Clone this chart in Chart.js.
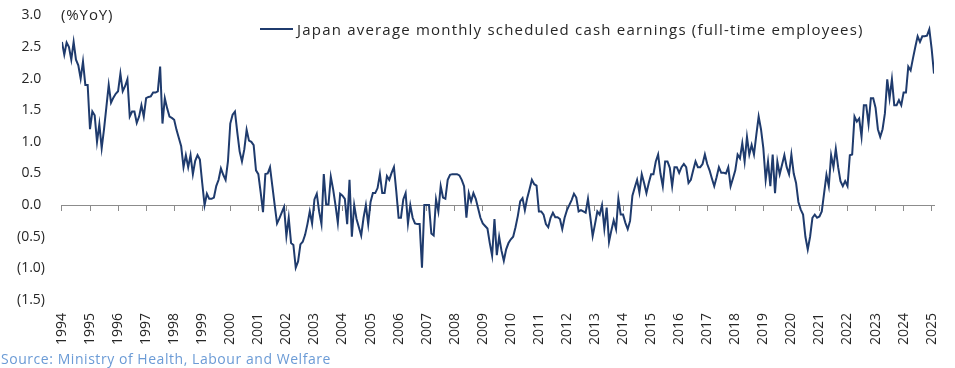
<!DOCTYPE html>
<html>
<head>
<meta charset="utf-8">
<script src="https://cdn.jsdelivr.net/npm/chart.js@4.4.1/dist/chart.umd.min.js"></script>
<style>
  html, body { margin: 0; padding: 0; background: #fff; }
  body { width: 955px; height: 368px; position: relative; overflow: hidden; font-family: 'Open Sans', sans-serif; }
  #wrap { position: absolute; left: 0; top: -10px; width: 955px; height: 376px; }
  #unit { position: absolute; left: 61px; top: 4px; font-size: 15px; letter-spacing: 0.9px; color: #262626; }
  #legend { position: absolute; left: 260px; top: 19px; font-size: 15px; letter-spacing: 1.2px; color: #262626; display: flex; align-items: center; white-space: nowrap; }
  #legend .swatch { width: 33px; height: 2px; margin-right: 4px; }
  #source { position: absolute; left: 1px; top: 349px; font-size: 14px; letter-spacing: 0.55px; color: #6b9bd6; white-space: nowrap; }
</style>
</head>
<body>
<div id="wrap"><canvas id="chart" width="955" height="376"></canvas></div>
<div id="unit"></div>
<div id="legend"></div>
<div id="source"></div>
<script>
// Данные: помесячно, январь 1994 — февраль 2025 (%YoY)
const startYear = 1994;
const cashEarningsYoY = [
  2.58, 2.38, 2.57, 2.5, 2.3, 2.58, 2.3, 2.21, 2.0, 2.27, 1.9, 1.9,          // 1994
  1.2, 1.48, 1.42, 1.0, 1.28, 0.9, 1.2, 1.55, 1.9, 1.62, 1.7, 1.76,          // 1995
  1.8, 2.08, 1.8, 1.88, 1.99, 1.4, 1.48, 1.48, 1.3, 1.4, 1.58, 1.4,          // 1996
  1.69, 1.71, 1.72, 1.78, 1.78, 1.8, 2.19, 1.29, 1.69, 1.53, 1.4, 1.38,      // 1997
  1.35, 1.19, 1.06, 0.93, 0.6, 0.79, 0.6, 0.79, 0.49, 0.7, 0.79, 0.72,       // 1998
  0.35, 0.0, 0.18, 0.1, 0.1, 0.12, 0.3, 0.4, 0.58, 0.48, 0.4, 0.69,          // 1999
  1.29, 1.43, 1.48, 1.15, 0.85, 0.69, 0.88, 1.19, 1.02, 1.0, 0.95, 0.55,     // 2000
  0.49, 0.2, -0.11, 0.49, 0.5, 0.6, 0.3, 0.0, -0.29, -0.21, -0.12, -0.03,    // 2001
  -0.49, -0.2, -0.6, -0.63, -0.99, -0.89, -0.62, -0.58, -0.47, -0.3, -0.1, -0.29, // 2002
  0.09, 0.18, -0.1, -0.3, 0.49, 0.01, 0.01, 0.45, 0.25, 0.0, -0.28, 0.18,    // 2003
  0.15, 0.1, -0.3, 0.4, -0.5, 0.0, -0.22, -0.35, -0.48, -0.2, 0.0, -0.3,     // 2004
  0.05, 0.19, 0.19, 0.27, 0.49, 0.19, 0.19, 0.46, 0.4, 0.51, 0.6, 0.22,      // 2005
  -0.2, -0.2, 0.09, 0.19, -0.29, 0.0, -0.2, -0.29, -0.3, -0.3, -0.99, 0.0,   // 2006
  0.0, 0.0, -0.45, -0.48, 0.09, -0.1, 0.3, 0.12, 0.1, 0.4, 0.48, 0.49,       // 2007
  0.49, 0.49, 0.47, 0.4, 0.3, -0.2, 0.19, 0.06, 0.19, 0.1, -0.05, -0.2,      // 2008
  -0.29, -0.33, -0.37, -0.6, -0.8, -0.22, -0.79, -0.5, -0.72, -0.88, -0.7, -0.6, // 2009
  -0.54, -0.5, -0.35, -0.17, 0.06, 0.11, -0.08, 0.11, 0.25, 0.4, 0.33, 0.31, // 2010
  -0.1, -0.1, -0.15, -0.3, -0.35, -0.2, -0.12, -0.19, -0.19, -0.22, -0.38, -0.2, // 2011
  -0.08, 0.0, 0.08, 0.18, 0.12, -0.1, -0.08, -0.1, -0.12, 0.1, -0.19, -0.49, // 2012
  -0.3, -0.1, -0.15, 0.0, -0.37, -0.04, -0.58, -0.4, -0.24, -0.38, 0.1, -0.15, // 2013
  -0.15, -0.28, -0.38, -0.25, 0.15, 0.28, 0.4, 0.2, 0.49, 0.35, 0.19, 0.35,  // 2014
  0.49, 0.49, 0.69, 0.8, 0.5, 0.3, 0.69, 0.69, 0.59, 0.3, 0.6, 0.6,          // 2015
  0.51, 0.6, 0.65, 0.6, 0.35, 0.4, 0.55, 0.69, 0.6, 0.6, 0.65, 0.8,          // 2016
  0.65, 0.55, 0.42, 0.3, 0.44, 0.6, 0.51, 0.51, 0.5, 0.6, 0.3, 0.42,         // 2017
  0.55, 0.8, 0.74, 0.98, 0.69, 1.08, 0.8, 0.95, 0.8, 1.11, 1.4, 1.2,         // 2018
  0.9, 0.4, 0.69, 0.3, 0.8, 0.19, 0.69, 0.49, 0.64, 0.79, 0.6, 0.49,         // 2019
  0.8, 0.5, 0.35, 0.05, -0.07, -0.15, -0.5, -0.7, -0.5, -0.2, -0.15, -0.2,   // 2020
  -0.18, -0.1, 0.19, 0.48, 0.3, 0.79, 0.6, 0.89, 0.6, 0.38, 0.3, 0.38,       // 2021
  0.3, 0.79, 0.8, 1.4, 1.32, 1.37, 1.08, 1.58, 1.58, 1.28, 1.69, 1.69,       // 2022
  1.54, 1.2, 1.08, 1.2, 1.45, 1.99, 1.69, 1.99, 1.58, 1.58, 1.66, 1.58,      // 2023
  1.78, 1.78, 2.19, 2.13, 2.32, 2.5, 2.67, 2.58, 2.67, 2.67, 2.68, 2.78,     // 2024
  2.47, 2.08                                                                  // 2025
];

// Оси
const yMin = -1.5;
const yMax = 3.0;
const yStep = 0.5;

// Тексты
const seriesLabel = 'Japan average monthly scheduled cash earnings (full-time employees)';
const unitLabel = '(%YoY)';
const sourceNote = 'Source: Ministry of Health, Labour and Welfare';

const lineColor = '#1f3b6d';
const textColor = '#262626';
const axisGray = '#8c8c8c';
const fontFamily = "'Open Sans', sans-serif";

// Точки: x = год + месяц/12
const points = cashEarningsYoY.map((v, i) => ({ x: startYear + i / 12, y: v }));
const xMax = startYear + (cashEarningsYoY.length - 1) / 12;

// Бухгалтерский формат: (0.5) для минуса, у плюса место под скобку
function fmtY(v) {
    const s = Math.abs(v).toFixed(1);
    return v < 0 ? '(' + s + ')' : s + '\u2008';
}

document.getElementById('unit').textContent = unitLabel;
document.getElementById('source').textContent = sourceNote;

const chart = new Chart(document.getElementById('chart'), {
    type: 'line',
    data: {
        datasets: [{
            label: seriesLabel,
            data: points,
            xAxisID: 'x',
            yAxisID: 'y',
            borderColor: lineColor,
            backgroundColor: lineColor,
            borderWidth: 2,
            pointRadius: 0,
            tension: 0,
            fill: false
        }]
    },
    options: {
        responsive: false,
        animation: false,
        devicePixelRatio: 1,
        layout: { padding: { top: 0, right: 21, bottom: 20, left: 0 } },
        plugins: {
            legend: { display: false },
            tooltip: { enabled: false }
        },
        scales: {
            x: {
                type: 'linear',
                position: 'bottom',
                min: startYear,
                max: xMax,
                // невидимые засечки дают отступ подписей (padding раздувает поля справа)
                grid: { display: true, drawOnChartArea: false, drawTicks: true, tickLength: 12, color: 'rgba(0,0,0,0)' },
                border: { display: false },
                ticks: {
                    stepSize: 1,
                    includeBounds: false,
                    autoSkip: false,
                    minRotation: 90,
                    maxRotation: 90,
                    padding: 1,
                    color: textColor,
                    font: { family: fontFamily, size: 14 },
                    callback: v => String(v)
                }
            },
            // линия нуля с засечками по годам (без подписей)
            x2: {
                type: 'linear',
                position: { y: 0 },
                min: startYear,
                max: xMax,
                grid: { display: true, drawOnChartArea: false, drawTicks: true, tickLength: 5, color: axisGray, lineWidth: 1 },
                border: { display: true, color: axisGray, width: 1 },
                ticks: { display: false, stepSize: 1, includeBounds: false, autoSkip: false, font: { size: 1 }, callback: () => '' }
            },
            y: {
                min: yMin,
                max: yMax,
                grid: { display: false, drawTicks: false },
                border: { display: false },
                ticks: {
                    stepSize: yStep,
                    padding: 17,
                    color: textColor,
                    font: { family: fontFamily, size: 14 },
                    callback: v => fmtY(v)
                }
            }
        }
    }
});

// Легенда в HTML, из данных графика
const legendBox = document.getElementById('legend');
chart.data.datasets.forEach(ds => {
    const sw = document.createElement('span');
    sw.className = 'swatch';
    sw.style.background = ds.borderColor;
    const txt = document.createElement('span');
    txt.textContent = ds.label;
    legendBox.appendChild(sw);
    legendBox.appendChild(txt);
});
</script>
</body>
</html>
